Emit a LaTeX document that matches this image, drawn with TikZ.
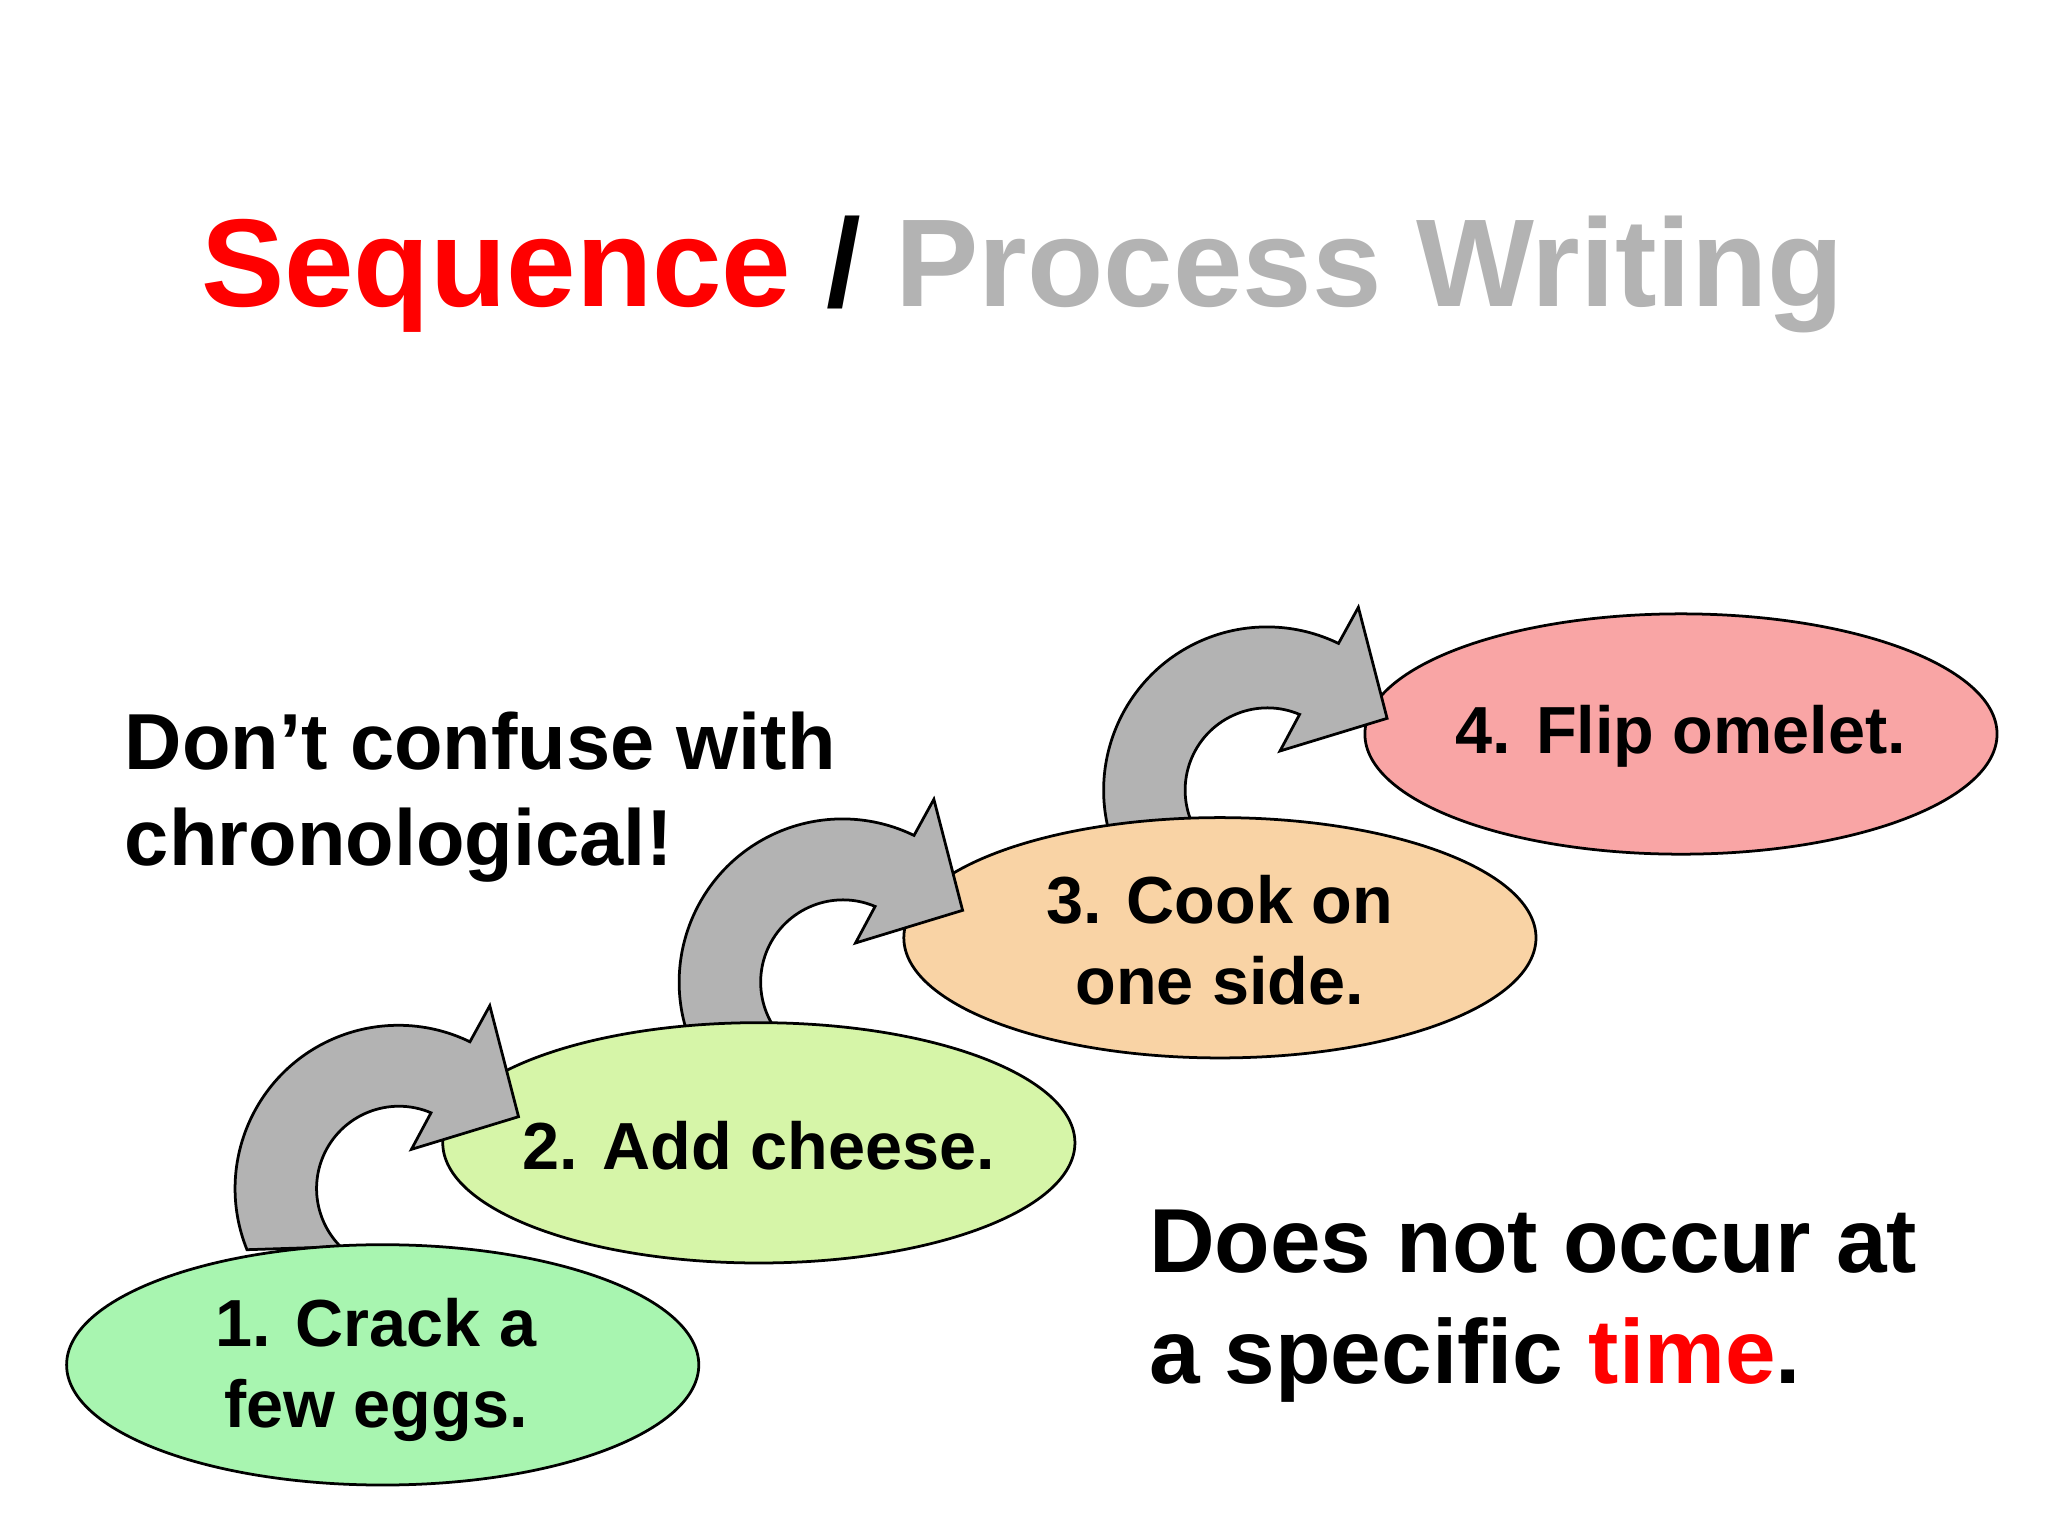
\documentclass[tikz,border=0pt]{standalone}
\usepackage{fontspec}
\setmainfont{Liberation Sans}
\usetikzlibrary{shapes.geometric}
\definecolor{tred}{HTML}{FF0000}
\definecolor{tgray}{HTML}{B3B3B3}
\definecolor{e1}{HTML}{A8F5B0}
\definecolor{e2}{HTML}{D6F5A8}
\definecolor{e3}{HTML}{F9D3A5}
\definecolor{e4}{HTML}{F9A5A5}
\begin{document}
\begin{tikzpicture}[x=0.01cm,y=0.01cm,
  ell/.style={fill=#1,draw=black,line width=0.6pt},
  steptext/.style={align=center,font=\bfseries\fontsize{14.5}{17.6}\selectfont},
  curvarrow/.style={fill=tgray,draw=black,line width=0.6pt}]
\useasboundingbox (0,0) rectangle (1568,1176);
\def\arrowshape#1#2{%
 \begin{scope}[shift={(#1,#2)}]
 \draw[curvarrow] (305,266) ++(202:125) arc (202:64:125) -- (375,406) -- (397,321) -- (315,296) -- (330,324) arc (67:225:63) -- cycle;
 \end{scope}}
% title
\node[font=\bfseries\fontsize{27.2}{32}\selectfont] (title) at (783,966) {\textcolor{tred}{Sequence} / \textcolor{tgray}{Process Writing}};
% back to front
\draw[ell=e4] (1287,614) ellipse (242 and 92);
\node[steptext] (s4) at (1287,612) {4. Flip omelet.};
\arrowshape{665}{305}
\draw[ell=e3] (934,458) ellipse (242 and 92);
\node[steptext] (s3) at (934,456) {3. Cook on\\one side.};
\arrowshape{340}{158}
\draw[ell=e2] (581,301) ellipse (242 and 92);
\node[steptext] (s2) at (581,299) {2. Add cheese.};
\arrowshape{0}{0}
\draw[ell=e1] (293,131) ellipse (242 and 92);
\node[steptext] (s1) at (288,127) {1. Crack a\\few eggs.};
% side texts
\node[anchor=north west,align=left,inner sep=0pt,font=\bfseries\fontsize{17.3}{21}\selectfont] (note1) at (95,632) {Don’t confuse with\\chronological!};
\node[anchor=north west,align=left,inner sep=0pt,font=\bfseries\fontsize{19.8}{24}\selectfont] (note2) at (879,250) {Does not occur at\\a specific \textcolor{tred}{time}.};
\end{tikzpicture}
\end{document}
